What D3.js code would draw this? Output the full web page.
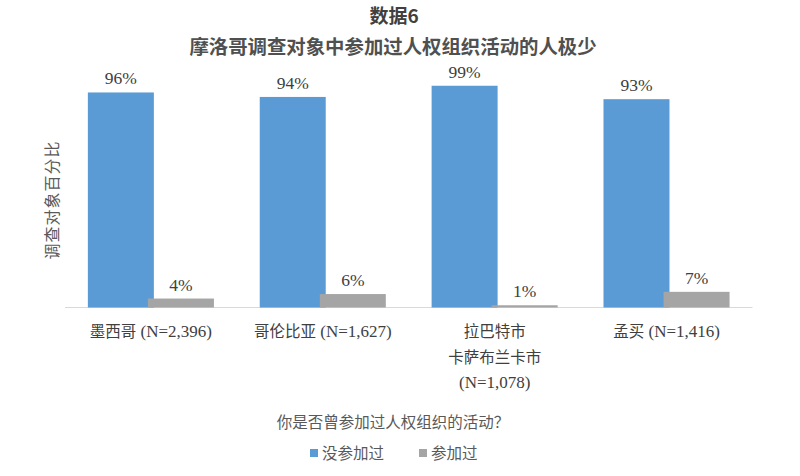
<!DOCTYPE html>
<html><head><meta charset="utf-8">
<script src="https://cdn.jsdelivr.net/npm/d3@7"></script>
<style>body{margin:0;background:#fff}</style>
</head><body><svg id="c" width="800" height="476"></svg>
<script>
const categories = [["墨西哥 (N=2,396)"],["哥伦比亚 (N=1,627)"],["拉巴特市","卡萨布兰卡市","(N=1,078)"],["孟买 (N=1,416)"]];
const seriesNames = ["没参加过","参加过"];
const notAttended = [96,94,99,93];
const attended = [4,6,1,7];
const colors = ["#5B9BD5","#A5A5A5"];
const title1 = "数据6";
const title2 = "摩洛哥调查对象中参加过人权组织活动的人极少";
const yTitle = "调查对象百分比";
const xTitle = "你是否曾参加过人权组织的活动？";

const svg = d3.select("#c");
const cjk = "'Noto Sans CJK SC','Noto Sans',sans-serif";
const serif = "'Liberation Serif','DejaVu Serif',serif";
const txt = "#404040";

const x = d3.scaleBand().domain(d3.range(categories.length)).range([65,752.5]).padding(0);
const y = d3.scaleLinear().domain([0,100]).range([307.5,83.5]);
const bw = x.bandwidth();
const barW = bw*0.384;
const offs = [-bw*0.367, -bw*0.0175];
const series = [notAttended, attended];

svg.append("line").attr("x1",65).attr("x2",752.5).attr("y1",307.5).attr("y2",307.5)
  .attr("stroke","#d9d9d9").attr("stroke-width",1);

series.forEach((vals,si)=>{
  const g = svg.append("g");
  g.selectAll("rect").data(vals).join("rect")
    .attr("x",(d,i)=>x(i)+bw/2+offs[si])
    .attr("width",barW)
    .attr("y",d=>y(d))
    .attr("height",d=>y(0)-y(d))
    .attr("fill",colors[si]);
  g.selectAll("text").data(vals).join("text")
    .attr("x",(d,i)=>x(i)+bw/2+offs[si]+barW/2)
    .attr("y",d=>y(d)-8)
    .attr("text-anchor","middle")
    .attr("font-family",serif).attr("font-size",17.5).attr("fill",txt)
    .text(d=>d+"%");
});

// category labels: CJK runs in sans, ASCII runs in serif
categories.forEach((lines,i)=>{
  lines.forEach((l,j)=>{
    const t = svg.append("text").attr("text-anchor","middle")
      .attr("x",x(i)+bw/2).attr("y",337+j*25.5)
      .attr("font-size",16).attr("fill",txt);
    const runs = l.match(/[\x00-\x7F]+|[^\x00-\x7F]+/g);
    runs.forEach(r=>{
      const ascii = /^[\x00-\x7F]+$/.test(r);
      t.append("tspan").attr("font-family",ascii?serif:cjk)
        .attr("font-size",ascii?17:15.5).text(r);
    });
  });
});

svg.append("text").attr("x",394).attr("y",23).attr("text-anchor","middle")
  .attr("font-family",cjk).attr("font-size",19).attr("font-weight","bold").attr("fill","#404040").text(title1);
svg.append("text").attr("x",393).attr("y",54).attr("text-anchor","middle")
  .attr("font-family",cjk).attr("font-size",19.4).attr("font-weight","bold").attr("fill","#505050").text(title2);

svg.append("text").attr("transform","translate(58,200) rotate(-90)").attr("text-anchor","middle")
  .attr("font-family",cjk).attr("font-size",16).attr("fill","#595959").attr("letter-spacing",1).text(yTitle);

svg.append("text").attr("x",393).attr("y",428).attr("text-anchor","middle")
  .attr("font-family",cjk).attr("font-size",15.5).attr("fill","#595959").text(xTitle);

// legend
const lg = svg.append("g").attr("font-family",cjk).attr("font-size",15.5).attr("fill","#595959");
const legX = [310, 419];
seriesNames.forEach((n,i)=>{
  lg.append("rect").attr("x",legX[i]).attr("y",449).attr("width",8).attr("height",8).attr("fill",colors[i]);
  lg.append("text").attr("x",legX[i]+12).attr("y",459).text(n);
});
</script></body></html>
